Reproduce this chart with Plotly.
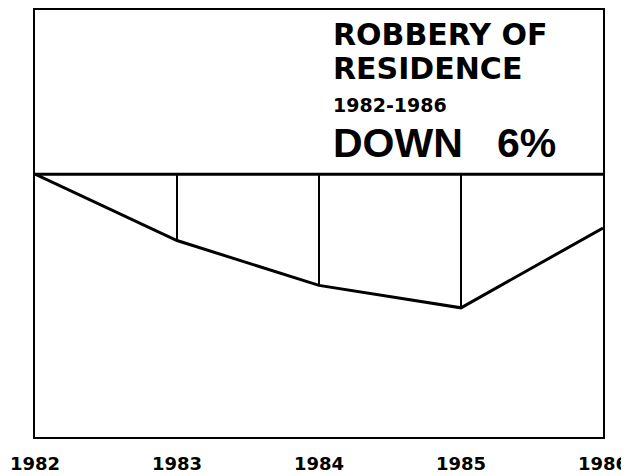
import plotly.graph_objects as go

years = [1982, 1983, 1984, 1985, 1986]
pct_change = [0.0, -7.4, -12.4, -14.9, -6.0]
tick_labels = ["1982", "1983", "1984", "1985", "1986"]
title_lines = ["ROBBERY OF", "RESIDENCE"]
period_label = "1982-1986"
headline = "DOWN\u00a0\u00a0\u00a06%"

# page body adds an 8px offset; figure sized so the plot box lands where the reference has it
W, H = 629, 468
ML, MR, MT, MB = 27, 34, 0, 39

fig = go.Figure()

# baseline at 0 (1982 level)
fig.add_trace(go.Scatter(
    x=[years[0], years[-1]], y=[0, 0], mode="lines",
    line=dict(color="black", width=3), hoverinfo="skip", showlegend=False))

# vertical drop lines for intermediate years
vx, vy = [], []
for yr, v in zip(years[1:-1], pct_change[1:-1]):
    vx += [yr, yr, None]
    vy += [0, v, None]
fig.add_trace(go.Scatter(
    x=vx, y=vy, mode="lines",
    line=dict(color="black", width=2), hoverinfo="skip", showlegend=False))

# main trend line
fig.add_trace(go.Scatter(
    x=years, y=pct_change, mode="lines",
    line=dict(color="black", width=3), showlegend=False))

font_title = dict(family="DejaVu Sans", size=30, color="black", weight="bold")
font_period = dict(family="DejaVu Sans", size=19, color="black", weight="bold")
font_head = dict(family="Liberation Sans", size=41, color="black", weight="bold")

ann = [
    (title_lines[0], 0.9425, font_title),
    (title_lines[1], 0.862, font_title),
    (period_label, 0.7784, font_period),
    (headline, 0.6878, font_head),
]
annotations = []
for txt, yy, f in ann:
    annotations.append(dict(
        text=txt, x=0.523, y=yy, xref="paper", yref="paper",
        xanchor="left", yanchor="middle", showarrow=False,
        font=f, borderpad=0))

fig.update_layout(
    width=W, height=H,
    margin=dict(l=ML, r=MR, t=MT, b=MB),
    paper_bgcolor="white", plot_bgcolor="white",
    annotations=annotations,
    xaxis=dict(
        range=[years[0], years[-1]], tickvals=years, ticktext=tick_labels,
        showgrid=False, zeroline=False, showline=True, mirror=True,
        linecolor="black", linewidth=2, ticks="", ticklabelstandoff=9,
        tickfont=dict(family="DejaVu Sans", size=18, color="black", weight="bold"),
    ),
    yaxis=dict(
        range=[-29.3, 18.3], showticklabels=False, showgrid=False,
        zeroline=False, showline=True, mirror=True,
        linecolor="black", linewidth=2, ticks="",
    ),
)

fig.write_html("out.html")
